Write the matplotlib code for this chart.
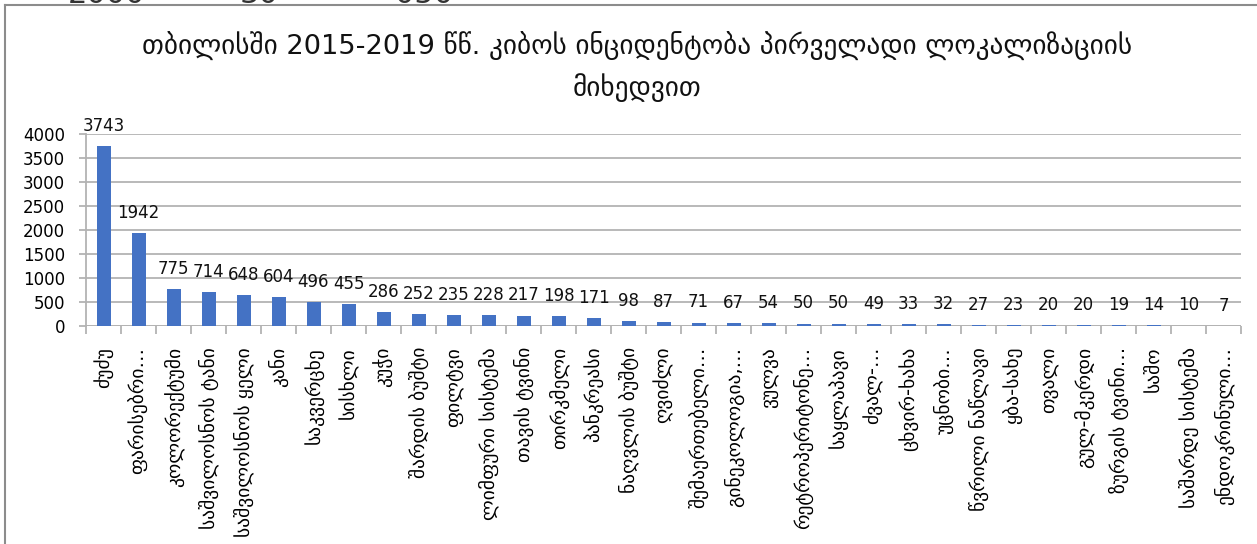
import matplotlib
matplotlib.use("Agg")
import matplotlib.pyplot as plt
from matplotlib.lines import Line2D
import numpy as np

plt.rcParams['font.family'] = ['DejaVu Sans']

title_text = "თბილისში 2015-2019 წწ. კიბოს ინციდენტობა პირველადი ლოკალიზაციის\nმიხედვით"

sites = [
    "ძუძუ", "ფარისებრი…", "კოლორექტუმი", "საშვილოსნოს ტანი", "საშვილოსნოს ყელი",
    "კანი", "საკვერცხე", "სისხლი", "კუჭი", "შარდის ბუშტი", "ფილტვი",
    "ლიმფური სისტემა", "თავის ტვინი", "თირკმელი", "პანკრეასი", "ნაღვლის ბუშტი",
    "ღვიძლი", "შემაერთებელი…", "გინეკოლოგია,…", "ვულვა", "რეტროპერიტონე…",
    "საყლაპავი", "ძვალ-…", "ცხვირ-ხახა", "უცნობი…", "წვრილი ნაწლავი", "ყბა-სახე",
    "თვალი", "გულ-მკერდი", "ზურგის ტვინი…", "საშო", "საშარდე სისტემა", "ენდოკრინული…",
]
cases = [3743, 1942, 775, 714, 648, 604, 496, 455, 286, 252, 235, 228, 217, 198,
         171, 98, 87, 71, 67, 54, 50, 50, 49, 33, 32, 27, 23, 20, 20, 19, 14, 10, 7]
y_ticks = [0, 500, 1000, 1500, 2000, 2500, 3000, 3500, 4000]

W, H = 1257, 544
fig = plt.figure(figsize=(W / 100, H / 100), dpi=100)

# frame around the chart area
frame_col = "#8c8c8c"
fig.add_artist(Line2D([5 / W, 5 / W], [0, 1 - 5 / H], color=frame_col, lw=1.5))
fig.add_artist(Line2D([5 / W, 1], [1 - 5 / H, 1 - 5 / H], color=frame_col, lw=1.5))

# bottoms of the numbers from the panel above, cut by the top edge
for xp, s in [(68, "2000"), (240, "30"), (395, "050")]:
    fig.text(xp / W, 1 - 3 / H, s, fontsize=22, va="baseline", ha="left", color="#333333")

ax = fig.add_axes([86 / W, 218 / H, (1241 - 86) / W, (410 - 218) / H])
x = np.arange(len(sites))
ax.bar(x, cases, width=0.4, color="#4472C4", zorder=2)

ax.set_xlim(-0.5, len(sites) - 0.5)
ax.set_ylim(0, 4000)
ax.set_yticks(y_ticks)
ax.set_yticklabels([str(v) for v in y_ticks], fontsize=12)
ax.yaxis.grid(True, color="#b3b3b3", lw=1.3, zorder=0)
ax.set_axisbelow(True)

for side in ["top", "right", "bottom"]:
    ax.spines[side].set_visible(False)
ax.spines["left"].set_color("#b3b3b3")
ax.spines["left"].set_linewidth(1.3)
ax.tick_params(axis="y", length=5, width=1.3, color="#b3b3b3", pad=10)

# category boundaries as minor ticks, labels on the major ticks
ax.set_xticks(x)
ax.set_xticklabels(sites, rotation=90, fontsize=14, va="top", ha="center")
ax.set_xticks(np.arange(-0.5, len(sites), 1.0), minor=True)
ax.tick_params(axis="x", which="major", length=0, pad=15)
ax.tick_params(axis="x", which="minor", length=6, width=1.3, color="#b3b3b3")
ax.axhline(0, color="#b3b3b3", lw=1.3, zorder=1)

for xi, v in zip(x, cases):
    ax.annotate(str(v), (xi, v), xytext=(0, 8), textcoords="offset points",
                ha="center", va="bottom", fontsize=12, color="#111111", zorder=3)

fig.text(637 / W, 1 - 67 / H, title_text, ha="center", va="center",
         fontsize=19.6, linespacing=1.55, color="#111111")

fig.savefig("out.png", dpi=100)
